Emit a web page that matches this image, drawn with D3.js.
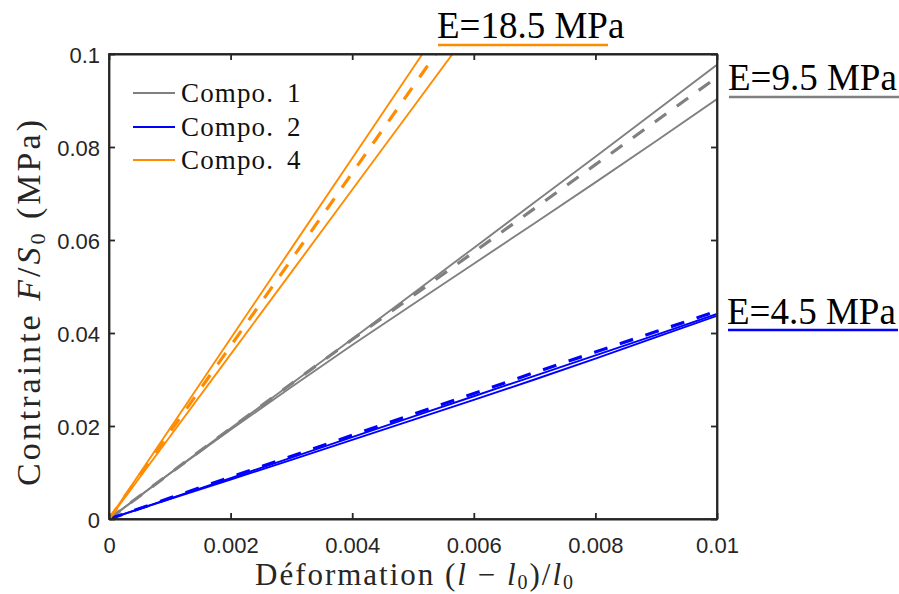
<!DOCTYPE html>
<html>
<head>
<meta charset="utf-8">
<script src="https://cdn.jsdelivr.net/npm/d3@7"></script>
<style>
  html, body { margin: 0; padding: 0; background: #ffffff; }
  svg { display: block; }
</style>
</head>
<body>
<svg id="chart" width="899" height="594"></svg>
<script>
// ---------------- DATA ----------------
const strain = [0, 0.001, 0.002, 0.003, 0.004, 0.005, 0.006, 0.007, 0.008, 0.009, 0.01];
const strainOrange = [0, 0.001, 0.002, 0.003, 0.004, 0.005, 0.006];

// Compo. 1 (grey)
const c1Upper = [0, 0.0098, 0.0195, 0.0291, 0.0387, 0.0485, 0.0583, 0.0681, 0.0779, 0.0878, 0.0977];
const c1Lower = [0, 0.0098, 0.0192, 0.0284, 0.0374, 0.0462, 0.0549, 0.0636, 0.0724, 0.0813, 0.0903];
const c1Mean  = [0, 0.0098, 0.0195, 0.0291, 0.0386, 0.0480, 0.0574, 0.0668, 0.0762, 0.0856, 0.0950];

// Compo. 2 (blue)
const c2Upper = [0, 0.0044, 0.0088, 0.0132, 0.0176, 0.0220, 0.0264, 0.0308, 0.0352, 0.0396, 0.0441];
const c2Lower = [0, 0.0043, 0.0085, 0.0127, 0.0170, 0.0213, 0.0256, 0.0300, 0.0345, 0.0391, 0.0437];
const c2Mean  = [0, 0.0045, 0.0090, 0.0135, 0.0180, 0.0225, 0.0270, 0.0315, 0.0359, 0.0403, 0.0447];

// Compo. 4 (orange)
const c4Upper = [0, 0.0194, 0.0388, 0.0582, 0.0776, 0.0970, 0.1164];
const c4Lower = [0, 0.0177, 0.0354, 0.0531, 0.0708, 0.0885, 0.1062];
const c4Mean  = [0, 0.0186, 0.0372, 0.0558, 0.0744, 0.0930, 0.1116];

const legendNames = ["Compo.", "Compo.", "Compo."];
const legendNums = ["1", "2", "4"];
const seriesColors = ["#808080", "#0000ff", "#ff8c00"];
const annotations = ["E=18.5 MPa", "E=9.5 MPa", "E=4.5 MPa"];

const xTicks = [0, 0.002, 0.004, 0.006, 0.008, 0.01];
const xTickLabels = ["0", "0.002", "0.004", "0.006", "0.008", "0.01"];
const yTicks = [0, 0.02, 0.04, 0.06, 0.08, 0.1];
const yTickLabels = ["0", "0.02", "0.04", "0.06", "0.08", "0.1"];

// ---------------- LAYOUT ----------------
const L = 109, R = 717, T = 54, B = 519;
const svg = d3.select("#chart");
const x = d3.scaleLinear().domain([0, 0.01]).range([L, R]);
const y = d3.scaleLinear().domain([0, 0.1]).range([B, T]);
const axisColor = "#262626";

svg.append("defs").append("clipPath").attr("id", "plotclip")
  .append("rect").attr("x", L).attr("y", T).attr("width", R - L).attr("height", B - T);

const plot = svg.append("g").attr("clip-path", "url(#plotclip)");

const line = d3.line().x(d => x(d[0])).y(d => y(d[1]));
function drawSeries(xs, ys, color, dashed) {
  plot.append("path")
    .datum(xs.map((v, i) => [v, ys[i]]))
    .attr("d", line)
    .attr("fill", "none")
    .attr("stroke", color)
    .attr("stroke-width", dashed ? 3.2 : 1.9)
    .attr("stroke-dasharray", dashed ? "14,13" : null);
}

drawSeries(strain, c1Upper, seriesColors[0], false);
drawSeries(strain, c1Lower, seriesColors[0], false);
drawSeries(strain, c1Mean, seriesColors[0], true);
drawSeries(strain, c2Upper, seriesColors[1], false);
drawSeries(strain, c2Lower, seriesColors[1], false);
drawSeries(strain, c2Mean, seriesColors[1], true);
drawSeries(strainOrange, c4Upper, seriesColors[2], false);
drawSeries(strainOrange, c4Lower, seriesColors[2], false);
drawSeries(strainOrange, c4Mean, seriesColors[2], true);

// ---------------- AXES ----------------
const tickLen = 6;
const fmtX = d => xTickLabels[xTicks.indexOf(d)];
const fmtY = d => yTickLabels[yTicks.indexOf(d)];

const gxB = svg.append("g").attr("transform", `translate(0,${B})`)
  .call(d3.axisBottom(x).tickValues(xTicks).tickFormat(fmtX).tickSizeInner(-tickLen).tickSizeOuter(0).tickPadding(20));
const gxT = svg.append("g").attr("transform", `translate(0,${T})`)
  .call(d3.axisTop(x).tickValues(xTicks).tickFormat("").tickSizeInner(-tickLen).tickSizeOuter(0));
const gyL = svg.append("g").attr("transform", `translate(${L},0)`)
  .call(d3.axisLeft(y).tickValues(yTicks).tickFormat(fmtY).tickSizeInner(-tickLen).tickSizeOuter(0).tickPadding(9));
const gyR = svg.append("g").attr("transform", `translate(${R},0)`)
  .call(d3.axisRight(y).tickValues(yTicks).tickFormat("").tickSizeInner(-tickLen).tickSizeOuter(0));

[gxB, gxT, gyL, gyR].forEach(g => {
  g.select(".domain").attr("stroke", axisColor).attr("stroke-width", 1.8);
  g.selectAll(".tick line").attr("stroke", axisColor).attr("stroke-width", 1.8);
  g.selectAll(".tick text")
    .attr("fill", axisColor)
    .attr("font-family", "'Liberation Sans', Arial, sans-serif")
    .attr("font-size", 22);
});
gxB.selectAll(".tick text").attr("dy", "0.71em").attr("y", 18);
gyL.selectAll(".tick text").attr("dy", "0.4em");

svg.append("rect").attr("x", L).attr("y", T).attr("width", R - L).attr("height", B - T)
  .attr("fill", "none").attr("stroke", axisColor).attr("stroke-width", 1.8);

// ---------------- AXIS LABELS ----------------
const serif = "'Liberation Serif', 'Times New Roman', serif";
const xl = svg.append("text")
  .attr("x", 414).attr("y", 585)
  .attr("text-anchor", "middle")
  .attr("font-family", serif).attr("font-size", 31).attr("fill", axisColor)
  .attr("textLength", 318).attr("lengthAdjust", "spacing");
xl.append("tspan").text("Déformation (");
xl.append("tspan").attr("font-style", "italic").text("l");
xl.append("tspan").text(" − ");
xl.append("tspan").attr("font-style", "italic").text("l");
xl.append("tspan").attr("font-size", 20).attr("dy", 4).text("0");
xl.append("tspan").attr("dy", -4).text(")/");
xl.append("tspan").attr("font-style", "italic").text("l");
xl.append("tspan").attr("font-size", 20).attr("dy", 4).text("0");

const yl = svg.append("text")
  .attr("transform", "translate(40,303) rotate(-90)")
  .attr("text-anchor", "middle")
  .attr("font-family", serif).attr("font-size", 34).attr("fill", axisColor)
  .attr("textLength", 366).attr("lengthAdjust", "spacing");
yl.append("tspan").text("Contrainte ");
yl.append("tspan").attr("font-style", "italic").text("F");
yl.append("tspan").text("/");
yl.append("tspan").attr("font-style", "italic").text("S");
yl.append("tspan").attr("font-size", 22).attr("dy", 5).text("0");
yl.append("tspan").attr("dy", -5).text(" (MPa)");

// ---------------- LEGEND ----------------
const legendY = [93, 127, 160];
legendNames.forEach((lab, i) => {
  svg.append("line")
    .attr("x1", 133).attr("x2", 175)
    .attr("y1", legendY[i]).attr("y2", legendY[i])
    .attr("stroke", seriesColors[i]).attr("stroke-width", 2);
  svg.append("text")
    .attr("x", 181).attr("y", legendY[i] + 9)
    .attr("font-family", serif).attr("font-size", 27).attr("fill", "#111")
    .attr("textLength", 92).attr("lengthAdjust", "spacing")
    .text(lab);
  svg.append("text")
    .attr("x", 287).attr("y", legendY[i] + 9)
    .attr("font-family", serif).attr("font-size", 27).attr("fill", "#111")
    .text(legendNums[i]);
});

// ---------------- ANNOTATIONS ----------------
const annPos = [[437, 38, 45], [728, 90, 97], [727, 324, 330]];
const annColors = [seriesColors[2], seriesColors[0], seriesColors[1]];
annotations.forEach((t, i) => {
  const [ax, ay, uy] = annPos[i];
  svg.append("text")
    .attr("x", ax).attr("y", ay)
    .attr("font-family", serif).attr("font-size", 37).attr("fill", "#000")
    .text(t);
  svg.append("line")
    .attr("x1", ax + 1).attr("x2", ax + 171)
    .attr("y1", uy).attr("y2", uy)
    .attr("stroke", annColors[i]).attr("stroke-width", 2.6);
});
</script>
</body>
</html>
